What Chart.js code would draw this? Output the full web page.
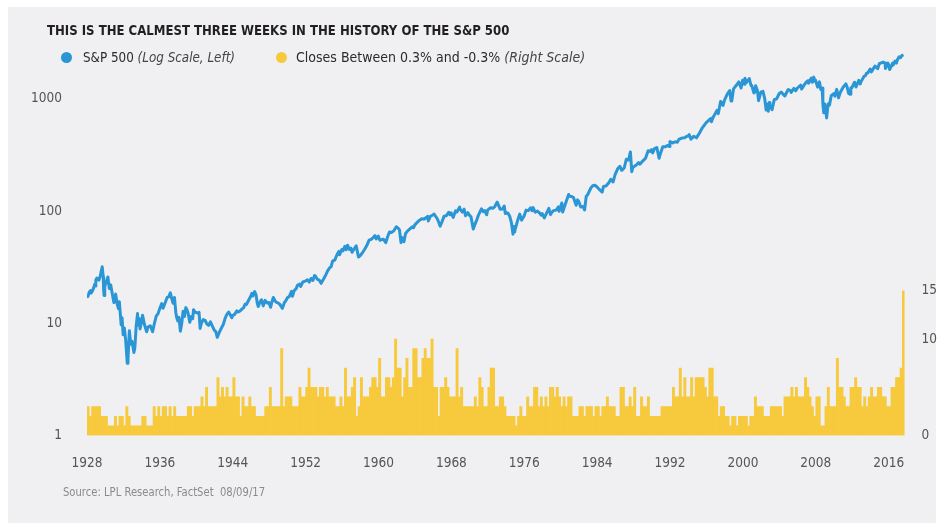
<!DOCTYPE html>
<html><head><meta charset="utf-8">
<script src="https://cdn.jsdelivr.net/npm/chart.js@4.4.1/dist/chart.umd.min.js"></script>
<style>
html,body{margin:0;padding:0;background:#fff;}
#wrap{position:relative;width:950px;height:529px;background:#fff;overflow:hidden;}
#panel{position:absolute;left:8px;top:7px;width:928px;height:516px;background:#f0f0f2;}
#c{position:absolute;left:0;top:0;}
.t{position:absolute;white-space:nowrap;font-family:"Liberation Sans Narrow","DejaVu Sans Condensed",sans-serif;line-height:1;}
#title{left:47px;top:23px;font-size:14.5px;font-weight:bold;color:#231f20;transform:scaleX(0.9);transform-origin:0 0;}
.dot{position:absolute;width:11px;height:11px;border-radius:50%;}
#d1{left:61px;top:52px;background:#2a96d5;}
#d2{left:276px;top:52px;background:#f7c93c;}
#l1{left:83px;top:50px;font-size:14px;color:#2b2b2b;transform:scaleX(0.95);transform-origin:0 0;}
#l2{left:296px;top:50px;font-size:14px;color:#2b2b2b;}
.it{font-style:italic;color:#444;}
#src{left:63px;top:487px;font-size:11.5px;color:#8a8a8a;transform:scaleX(0.97);transform-origin:0 0;}
</style></head>
<body>
<div id="wrap">
<div id="panel"></div>
<canvas id="c" width="950" height="529"></canvas>
<div class="t" id="title">THIS IS THE CALMEST THREE WEEKS IN THE HISTORY OF THE S&amp;P 500</div>
<div class="dot" id="d1"></div>
<div class="t" id="l1">S&amp;P 500 <span class="it">(Log Scale, Left)</span></div>
<div class="dot" id="d2"></div>
<div class="t" id="l2">Closes Between 0.3% and -0.3% <span class="it">(Right Scale)</span></div>
<div class="t" id="src">Source: LPL Research, FactSet&nbsp;&nbsp;08/09/17</div>
</div>
<script>
// ---- DATA ----
const xTickYears = [1928,1936,1944,1952,1960,1968,1976,1984,1992,2000,2008,2016];
const leftTicks = [1,10,100,1000];
const rightTicks = [0,10,15];

// S&P 500 (log scale, left): dates as decimal years, values as index level
const spxDates = [
1928.0,1928.1,1928.25,1928.4,1928.45,1928.6,1928.75,1928.85,1928.9,1928.97,
1929.08,1929.2,1929.3,1929.45,1929.55,1929.67,1929.78,1929.82,1929.87,1929.95,
1930.1,1930.29,1930.45,1930.6,1930.75,1930.95,
1931.15,1931.3,1931.45,1931.55,1931.75,1931.85,1931.97,
1932.1,1932.25,1932.42,1932.5,1932.65,1932.8,1932.95,
1933.15,1933.25,1933.4,1933.55,1933.6,1933.75,1933.82,1933.97,
1934.1,1934.3,1934.55,1934.7,1934.95,
1935.2,1935.4,1935.6,1935.8,1935.97,
1936.2,1936.35,1936.6,1936.8,1936.97,
1937.15,1937.35,1937.45,1937.6,1937.75,1937.85,1937.97,
1938.1,1938.25,1938.4,1938.55,1938.7,1938.85,1938.97,
1939.1,1939.28,1939.45,1939.6,1939.7,1939.85,1939.97,
1940.15,1940.3,1940.42,1940.55,1940.75,1940.97,
1941.15,1941.35,1941.55,1941.75,1941.97,
1942.15,1942.3,1942.5,1942.7,1942.97,
1943.15,1943.35,1943.55,1943.75,1943.9,1943.97,
1944.2,1944.45,1944.6,1944.8,1944.97,
1945.2,1945.35,1945.5,1945.7,1945.97,
1946.1,1946.2,1946.4,1946.55,1946.7,1946.8,1946.97,
1947.15,1947.35,1947.55,1947.75,1947.97,
1948.15,1948.3,1948.45,1948.65,1948.85,1948.97,
1949.15,1949.45,1949.65,1949.85,1949.97,
1950.2,1950.45,1950.55,1950.75,1950.97,
1951.1,1951.35,1951.45,1951.7,1951.97,
1952.2,1952.4,1952.6,1952.8,1952.97,
1953.05,1953.3,1953.5,1953.7,1953.97,
1954.2,1954.4,1954.6,1954.8,1954.97,
1955.2,1955.45,1955.65,1955.73,1955.8,1955.97,
1956.1,1956.3,1956.45,1956.6,1956.8,1956.97,
1957.1,1957.3,1957.55,1957.8,1957.97,
1958.2,1958.45,1958.7,1958.97,
1959.2,1959.45,1959.6,1959.75,1959.97,
1960.15,1960.35,1960.55,1960.8,1960.97,
1961.2,1961.45,1961.7,1961.95,
1962.15,1962.3,1962.47,1962.6,1962.8,1962.97,
1963.2,1963.45,1963.7,1963.85,1963.97,
1964.25,1964.5,1964.75,1964.97,
1965.2,1965.4,1965.47,1965.7,1965.97,
1966.1,1966.3,1966.45,1966.6,1966.77,1966.97,
1967.2,1967.45,1967.7,1967.85,1967.97,
1968.2,1968.45,1968.6,1968.9,1968.97,
1969.2,1969.4,1969.55,1969.8,1969.97,
1970.15,1970.4,1970.55,1970.8,1970.97,
1971.3,1971.5,1971.65,1971.88,1971.97,
1972.3,1972.55,1972.75,1972.97,
1973.03,1973.35,1973.6,1973.8,1973.92,1973.97,
1974.2,1974.4,1974.6,1974.76,1974.85,1974.95,1974.99,
1975.3,1975.5,1975.7,1975.97,
1976.2,1976.45,1976.7,1976.85,1976.97,
1977.2,1977.45,1977.7,1977.85,1977.97,
1978.2,1978.45,1978.7,1978.88,1978.97,
1979.2,1979.5,1979.75,1979.83,1979.97,
1980.12,1980.22,1980.5,1980.87,1980.97,
1981.2,1981.4,1981.7,1981.85,1981.97,
1982.2,1982.45,1982.62,1982.8,1982.97,
1983.3,1983.5,1983.75,1983.97,
1984.2,1984.55,1984.7,1984.97,
1985.3,1985.5,1985.75,1985.97,
1986.25,1986.5,1986.7,1986.97,
1987.2,1987.45,1987.65,1987.8,1987.9,1987.97,
1988.3,1988.55,1988.7,1988.97,
1989.3,1989.6,1989.8,1989.97,
1990.1,1990.3,1990.55,1990.8,1990.97,
1991.2,1991.5,1991.75,1991.93,1991.99,
1992.3,1992.55,1992.8,1992.97,
1993.3,1993.6,1993.85,1993.97,
1994.1,1994.3,1994.6,1994.9,1994.97,
1995.25,1995.5,1995.75,1995.97,
1996.25,1996.5,1996.55,1996.75,1996.97,
1997.15,1997.3,1997.55,1997.82,1997.97,
1998.3,1998.55,1998.7,1998.78,1998.97,
1999.3,1999.55,1999.8,1999.97,
2000.15,2000.22,2000.4,2000.7,2000.9,2000.97,
2001.2,2001.28,2001.4,2001.6,2001.72,2001.97,
2002.2,2002.4,2002.55,2002.7,2002.78,2002.9,2002.97,
2003.2,2003.45,2003.7,2003.97,
2004.2,2004.6,2004.97,
2005.2,2005.3,2005.6,2005.8,2005.97,
2006.35,2006.45,2006.75,2006.97,
2007.15,2007.2,2007.5,2007.62,2007.78,2007.9,2007.97,
2008.2,2008.4,2008.55,2008.7,2008.78,2008.88,2008.97,
2009.1,2009.19,2009.35,2009.5,2009.7,2009.97,
2010.1,2010.3,2010.5,2010.7,2010.97,
2011.3,2011.45,2011.6,2011.76,2011.85,2011.97,
2012.25,2012.42,2012.72,2012.88,2012.97,
2013.3,2013.45,2013.55,2013.7,2013.97,
2014.1,2014.5,2014.8,2014.97,
2015.4,2015.6,2015.65,2015.9,2015.97,
2016.11,2016.45,2016.49,2016.7,2016.85,2016.97,
2017.15,2017.3,2017.45,2017.62
];
const spxValues = [
17.6,17.3,18.9,19.6,18.6,19.4,20.9,22.3,21.5,24.3,
25.3,24.9,24.2,26.2,28.8,31.9,26.0,20.4,17.7,21.4,
23.1,25.9,20.4,22.0,18.8,15.3,
18.2,15.0,13.5,15.6,9.7,11.2,7.9,
9.1,7.0,4.4,4.8,8.6,6.5,6.9,
5.5,6.0,9.5,12.2,9.6,11.0,8.9,10.1,
11.8,9.8,8.4,9.3,9.5,
8.4,10.0,11.6,12.2,13.4,
15.0,13.6,15.4,17.0,17.2,
18.7,16.0,15.1,17.0,12.5,11.2,10.5,
11.3,8.5,10.0,12.8,11.5,13.8,13.2,
12.3,10.2,11.5,11.0,13.2,12.6,12.5,
12.3,12.5,9.0,10.0,10.8,10.6,
9.9,9.6,10.3,9.5,8.7,
8.4,7.5,8.2,8.9,9.8,
11.0,12.0,12.6,11.8,11.2,11.7,
12.0,12.9,12.6,12.9,13.3,
13.8,14.8,14.7,15.8,17.4,
18.5,17.5,19.2,18.0,15.0,14.1,15.3,
16.2,14.3,16.0,15.2,15.3,
13.9,15.5,17.0,15.8,15.3,15.2,
14.8,13.6,15.2,16.0,16.8,
17.3,19.3,17.4,19.6,20.4,
21.8,22.4,21.3,23.4,23.8,
24.4,23.3,25.1,24.1,26.6,
26.5,24.6,24.2,22.7,24.8,
26.9,29.2,31.0,32.0,36.0,
36.6,41.0,43.7,40.8,42.3,45.5,
44.2,48.5,45.2,49.7,45.5,46.7,
43.0,45.7,49.1,39.0,40.0,
42.1,45.2,49.0,55.2,
56.0,58.5,60.5,56.5,59.9,
55.0,55.8,56.0,52.3,58.1,
65.1,64.6,67.0,72.6,
70.5,68.0,52.3,58.0,53.5,63.1,
66.6,69.4,72.3,71.0,75.0,
79.5,83.0,85.5,84.8,
87.0,90.0,81.6,90.0,92.4,
94.1,89.0,85.5,80.0,73.2,80.3,
90.2,91.0,97.6,92.7,96.5,
87.7,100.5,98.0,108.4,103.9,
98.0,104.0,91.0,97.0,92.1,
89.0,69.3,75.0,84.0,92.2,
104.8,99.0,101.0,92.8,102.1,
107.0,106.0,109.0,118.1,
120.2,104.0,104.5,111.0,95.0,97.6,
96.0,90.0,78.0,62.3,73.0,65.0,68.6,
84.0,94.0,83.0,90.2,
102.0,101.0,107.0,101.0,107.5,
98.0,100.0,96.0,92.0,95.1,
87.0,96.0,106.0,93.0,96.1,
101.0,102.0,109.0,99.9,107.9,
118.0,98.2,115.0,140.5,135.8,
135.0,132.0,112.8,126.0,122.6,
109.0,110.0,102.4,135.0,140.6,
160.0,168.0,170.0,164.9,
157.0,147.8,166.0,167.2,
180.0,192.0,182.0,211.3,
238.0,251.0,231.0,242.2,
290.0,285.0,336.8,224.8,242.0,247.1,
258.0,271.0,262.0,277.7,
295.0,345.0,340.0,353.4,
330.0,360.0,368.9,295.5,330.2,
375.0,375.0,385.0,376.0,417.1,
405.0,415.0,410.0,435.7,
448.0,450.0,465.0,466.5,
481.0,438.0,465.0,450.0,459.3,
500.0,545.0,582.0,615.9,
645.0,670.0,626.0,690.0,740.7,
790.0,740.0,950.0,876.0,970.4,
1110,1186,957,960,1229,
1330,1418,1250,1469,
1350,1527,1400,1520,1310,1320,
1130,1140,1312,1180,965,1148,
1170,1000,797,900,776.8,930,879.8,
800.7,990,1000,1111.9,
1150,1063,1211.9,
1190,1140,1240,1180,1248.3,
1326,1224,1340,1418.3,
1455,1380,1530,1406,1565,1440,1468,
1273,1420,1215,1250,900,752,903,
800,676.5,900,880,1070,1115,
1060,1217,1022,1145,1257.6,
1363,1270,1119,1099,1260,1257.6,
1408,1278,1465,1360,1426,
1590,1610,1685,1700,1848,
1741,1960,1862,2058.9,
2130,2090,1867,2090,2043.9,
1829,2090,2000,2170,2085,2238.8,
2370,2330,2430,2474
];

// Closes between 0.3% and -0.3% (right scale): quarterly readings, first quarter = 1928 Q1
const calmStartYear = 1928;
const calmQuarterly = [
3,2,3,3, 3,3,2,2, 2,1,1,1, 2,1,2,2, 1,3,2,1, 1,1,1,1, 2,2,1,1, 1,3,2,3, 2,3,3,2, 3,2,3,2,
2,2,2,2, 3,3,2,3, 3,3,4,3, 5,3,3,3, 3,6,4,5, 4,5,4,4, 6,4,4,2, 4,3,3,4, 3,3,2,2, 2,2,3,3,
5,3,3,3, 3,9,3,4, 4,4,3,3, 3,5,4,4, 5,7,5,5, 5,4,5,5, 4,5,4,4, 4,3,3,4, 3,7,4,4, 5,6,2,3,
6,4,4,4, 5,6,6,5, 8,4,4,6, 6,5,6,10, 7,7,4,6, 8,5,5,9, 9,6,6,8, 9,8,8,10, 5,5,2,5, 5,6,5,4,
4,4,9,4, 5,3,3,3, 3,3,4,3, 6,5,3,3, 5,7,7,3, 3,4,4,3, 2,2,2,2, 1,2,3,2, 2,4,3,3, 5,5,3,4,
3,4,3,5, 5,4,5,4, 3,4,3,4, 4,2,2,2, 3,3,2,3, 3,3,2,3, 3,2,3,3, 4,3,3,3, 2,2,5,5, 3,3,4,3,
5,2,2,4, 3,3,4,2, 2,2,2,2, 3,3,3,3, 3,5,4,4, 7,4,6,4, 4,6,4,6, 6,6,6,5, 4,7,7,4, 4,2,3,3,
2,2,1,2, 2,1,2,2, 2,2,1,2, 2,4,3,3, 3,2,2,2, 3,3,3,3, 3,2,4,4, 4,5,4,5, 4,4,4,6, 5,4,3,2,
4,4,1,1, 3,5,3,3, 3,8,5,5, 4,3,3,5, 5,6,5,5, 3,4,3,4, 5,4,4,5, 5,4,4,3, 3,5,5,6, 6,7,15
];

// ---- CHART ----
const FONT = '"Liberation Sans Narrow","DejaVu Sans Condensed",sans-serif';
const spxPoints = spxDates.map((d, i) => ({x: d, y: spxValues[i]}));
const calmPoints = calmQuarterly.map((v, i) => ({x: calmStartYear + i * 0.25 + 0.125, y: v}));

new Chart(document.getElementById('c'), {
  type: 'bar',
  data: {
    datasets: [
      {type: 'line', label: 'S&P 500', data: spxPoints, yAxisID: 'y', borderColor: '#2a96d5',
       borderWidth: 3, pointRadius: 0, tension: 0, order: 0, borderJoinStyle: 'round'},
      {type: 'bar', label: 'Closes Between 0.3% and -0.3%', data: calmPoints, yAxisID: 'y2',
       backgroundColor: '#f7c93c', borderWidth: 0, barPercentage: 1, categoryPercentage: 1, order: 1}
    ]
  },
  options: {
    responsive: false, animation: false, events: [],
    layout: {padding: {top: 40, left: 0, right: 0, bottom: 0}},
    plugins: {legend: {display: false}, tooltip: {enabled: false}},
    scales: {
      x: {
        type: 'linear', min: 1928, max: 2017.75, offset: false,
        grid: {display: false, drawTicks: false}, border: {display: false},
        afterBuildTicks: s => { s.ticks = xTickYears.map(v => ({value: v})); },
        afterFit: s => { s.height = 93.5; },
        ticks: {callback: v => String(v), padding: 20, maxRotation: 0, autoSkip: false,
                color: '#555', font: {family: FONT, size: 13.5}}
      },
      y: {
        type: 'logarithmic', position: 'left', min: 1, max: 3350,
        grid: {display: false, drawTicks: false}, border: {display: false},
        afterBuildTicks: s => { s.ticks = leftTicks.map(v => ({value: v})); },
        afterFit: s => { s.width = 87; },
        ticks: {callback: v => String(v), padding: 25, color: '#555', font: {family: FONT, size: 13.5}}
      },
      y2: {
        type: 'linear', position: 'right', min: 0, max: 41,
        grid: {display: false, drawTicks: false}, border: {display: false},
        afterBuildTicks: s => { s.ticks = rightTicks.map(v => ({value: v})); },
        afterFit: s => { s.width = 45.4; },
        ticks: {callback: v => String(v), padding: 17, color: '#555', font: {family: FONT, size: 13.5}}
      }
    }
  }
});
</script>
</body></html>
